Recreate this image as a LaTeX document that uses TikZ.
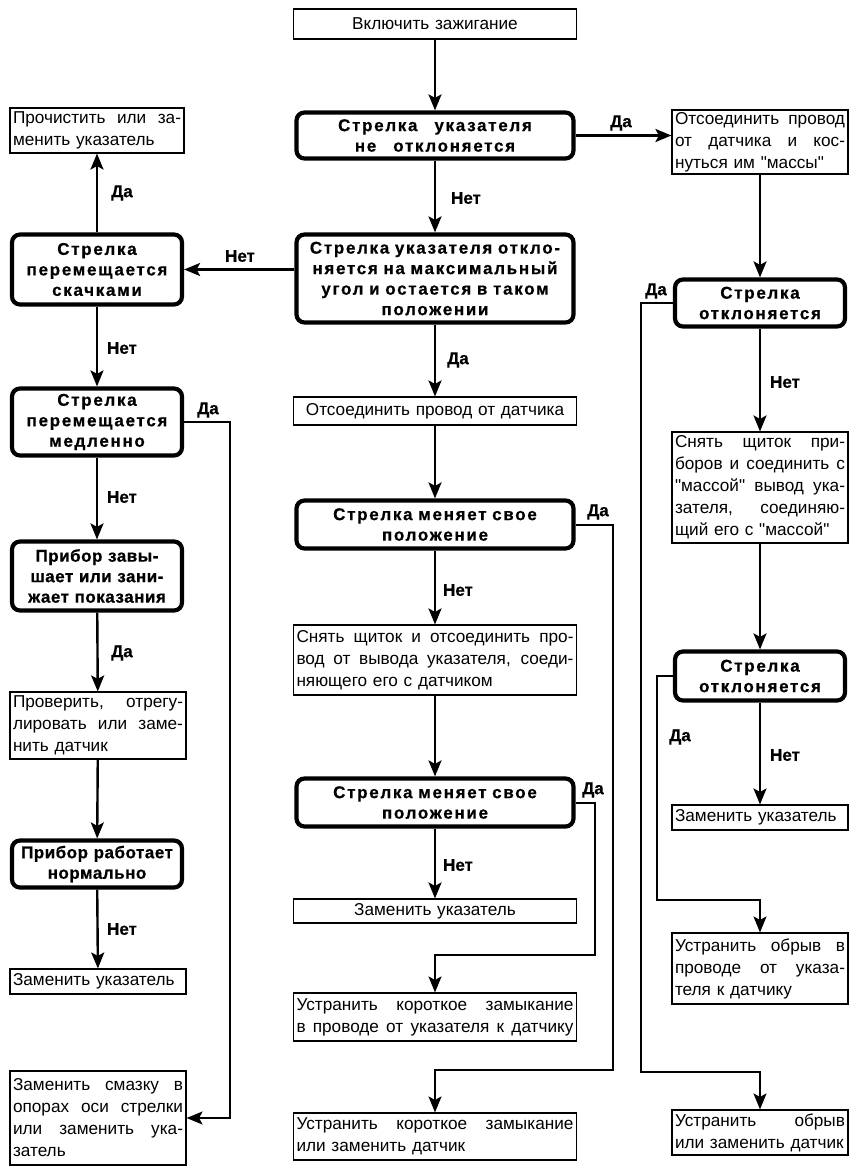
\documentclass[tikz,border=0pt]{standalone}
\usepackage{fontspec}
\setmainfont{Liberation Sans}
\newfontfamily\pfam{Liberation Sans}
\newfontfamily\decfam[LetterSpace=10,FakeBold=0.6]{Liberation Sans Bold}
\newfontfamily\decfamn[LetterSpace=3,FakeBold=0.6]{Liberation Sans Bold}
\newfontfamily\lblfam[FakeBold=0.5]{Liberation Sans Bold}
\usetikzlibrary{arrows.meta}
\newcommand\jl[1]{\leavevmode\hbox to\hsize{\spaceskip=0.27em plus 1fil minus 0.1em\relax #1}}
\newcommand\nl[1]{\leavevmode\hbox{#1}}
\tikzset{
  pbox/.style={draw, line width=1.1pt, inner xsep=3pt, inner ysep=1pt, align=left,
    font=\pfam\fontsize{17.2}{22}\selectfont},
  dbox/.style={draw, line width=4.2pt, rounded corners=8pt, inner xsep=1pt, inner ysep=1pt, align=center,
    font=\decfam\fontsize{17}{20.5}\selectfont},
  dboxn/.style={dbox, font=\decfamn\fontsize{17}{20.5}\selectfont},
  arr/.style={line width=2.4pt, -{Stealth[length=16pt,width=13pt,inset=3.5pt]}},
  arrt/.style={line width=2pt, -{Stealth[length=16pt,width=13pt,inset=3.5pt]}},
  lbl/.style={font=\lblfam\fontsize{17}{19}\selectfont, inner sep=0pt},
}
\begin{document}
\begin{tikzpicture}[x=1pt,y=-1pt]
\useasboundingbox[fill=white] (0,0) rectangle (863,1172);
% centre column
\node[pbox, text width=277pt, minimum height=30pt, align=center] (start) at (435,24) {Включить зажигание};
\node[dbox, text width=275pt, minimum height=46pt] (d1) at (435,135.5) {Стрелка\ \ \ указателя\\не\ \ \ отклоняется};
\node[dbox, text width=275pt, minimum height=88pt] (d2) at (435,278.5) {Стрелка указателя откло-\\няется на максимальный\\угол и остается в таком\\положении};
\node[pbox, text width=277pt, minimum height=28pt, align=center] (c1) at (435,411) {Отсоединить провод от датчика};
\node[dbox, text width=275pt, minimum height=48pt] (c2) at (435,524.5) {Стрелка меняет свое\\положение};
\node[pbox, text width=277pt, minimum height=70pt] (c3) at (435,660) {\jl{Снять щиток и отсоединить про-}\\\jl{вод от вывода указателя, соеди-}\\\nl{няющего его с датчиком}};
\node[dbox, text width=275pt, minimum height=48pt] (c4) at (435,802.5) {Стрелка меняет свое\\положение};
\node[pbox, text width=277pt, minimum height=24pt, align=center] (c5) at (435,911) {Заменить указатель};
\node[pbox, text width=277pt, minimum height=48pt] (c6) at (435,1017) {\jl{Устранить короткое замыкание}\\\jl{в проводе от указателя к датчику}};
\node[pbox, text width=277pt, minimum height=47pt] (c7) at (435,1136.5) {\jl{Устранить короткое замыкание}\\\nl{или заменить датчик}};
% left column
\node[pbox, text width=168pt, minimum height=45pt] (l0) at (97,130.5) {\jl{Прочистить или за-}\\\nl{менить указатель}};
\node[dbox, text width=168pt, minimum height=70pt] (l1) at (97,269.5) {Стрелка\\перемещается\\скачками};
\node[dbox, text width=168pt, minimum height=67pt] (l2) at (97,422) {Стрелка\\перемещается\\медленно};
\node[dboxn, text width=168pt, minimum height=69pt] (l3) at (97,576) {Прибор завы-\\шает или зани-\\жает показания};
\node[pbox, text width=170pt, minimum height=67pt] (l4) at (98,725.5) {\jl{Проверить, отрегу-}\\\jl{лировать или заме-}\\\nl{нить датчик}};
\node[dboxn, text width=168pt, minimum height=47pt] (l5) at (97,864) {Прибор работает\\нормально};
\node[pbox, text width=170pt, minimum height=25pt] (l6) at (98,981.5) {\nl{Заменить указатель}};
\node[pbox, text width=170pt, minimum height=94pt] (l7) at (98,1118) {\jl{Заменить смазку в}\\\jl{опорах оси стрелки}\\\jl{или заменить ука-}\\\nl{затель}};
% right column
\node[pbox, text width=170pt, minimum height=64pt] (r1) at (760,142) {\jl{Отсоединить провод}\\\jl{от датчика и кос-}\\\nl{нуться им "массы"}};
\node[dbox, text width=168pt, minimum height=47pt] (r2) at (760,303) {Стрелка\\отклоняется};
\node[pbox, text width=170pt, minimum height=111pt] (r3) at (760,487.5) {\jl{Снять щиток при-}\\\jl{боров и соединить с}\\\jl{"массой" вывод ука-}\\\jl{зателя, соединяю-}\\\nl{щий его с "массой"}};
\node[dbox, text width=168pt, minimum height=49pt] (r4) at (760,676) {Стрелка\\отклоняется};
\node[pbox, text width=170pt, minimum height=25pt] (r5) at (760,817.5) {\nl{Заменить указатель}};
\node[pbox, text width=170pt, minimum height=71pt] (r6) at (760,968.5) {\jl{Устранить обрыв в}\\\jl{проводе от указа-}\\\nl{теля к датчику}};
\node[pbox, text width=170pt, minimum height=45pt] (r7) at (760,1132.5) {\jl{Устранить обрыв}\\\nl{или заменить датчик}};
% connector turning points
\coordinate (kl) at (230,0);
\coordinate (kc2) at (613,1070);
\coordinate (kc4) at (595,955);
\coordinate (kr2) at (641,1072);
\coordinate (kr4) at (657,900);
% straight arrows
\draw[arr] (start) -- (d1);
\draw[arr] (d1) -- (d2);
\draw[arr] (d2) -- (c1);
\draw[arr] (c1) -- (c2);
\draw[arr] (c2) -- (c3);
\draw[arr] (c3) -- (c4);
\draw[arr] (c4) -- (c5);
\draw[arr] (d1.east) -- (d1.east -| r1.west);
\draw[arr] (d2.west |- l1.east) -- (l1.east);
\draw[arr] (l1) -- (l0);
\draw[arr] (l1) -- (l2);
\draw[arr] (l2) -- (l3);
\draw[arr] (l3) -- (l4);
\draw[arr] (l4) -- (l5);
\draw[arr] (l5) -- (l6);
\draw[arr] (r1) -- (r2);
\draw[arr] (r2) -- (r3);
\draw[arr] (r3) -- (r4);
\draw[arr] (r4) -- (r5);
% routed yes-branches
\draw[arrt] (l2.east) -- (l2.east -| kl) -- (kl |- l7.east) -- (l7.east);
\draw[arrt] (c2.east) -- (c2.east -| kc2) -- (kc2) -- (kc2 -| c7.north) -- (c7.north);
\draw[arrt] (c4.east) -- (c4.east -| kc4) -- (kc4) -- (kc4 -| c6.north) -- (c6.north);
\draw[arrt] (r2.west) -- (r2.west -| kr2) -- (kr2) -- (kr2 -| r7.north) -- (r7.north);
\draw[arrt] (r4.west) -- (r4.west -| kr4) -- (kr4) -- (kr4 -| r6.north) -- (r6.north);
% labels
\node[lbl] (t1) at (621,123) {Да};
\node[lbl] (t2) at (466,198) {Нет};
\node[lbl] (t3) at (240,256) {Нет};
\node[lbl] (t4) at (122,193) {Да};
\node[lbl] (t5) at (122,348) {Нет};
\node[lbl] (t6) at (208,410) {Да};
\node[lbl] (t7) at (122,497) {Нет};
\node[lbl] (t8) at (122,653) {Да};
\node[lbl] (t9) at (122,929) {Нет};
\node[lbl] (t10) at (458,360) {Да};
\node[lbl] (t11) at (458,590) {Нет};
\node[lbl] (t12) at (598,512) {Да};
\node[lbl] (t13) at (458,865) {Нет};
\node[lbl] (t14) at (593,790) {Да};
\node[lbl] (t15) at (656,291) {Да};
\node[lbl] (t16) at (785,382) {Нет};
\node[lbl] (t17) at (680,737) {Да};
\node[lbl] (t18) at (785,755) {Нет};
\end{tikzpicture}
\end{document}
